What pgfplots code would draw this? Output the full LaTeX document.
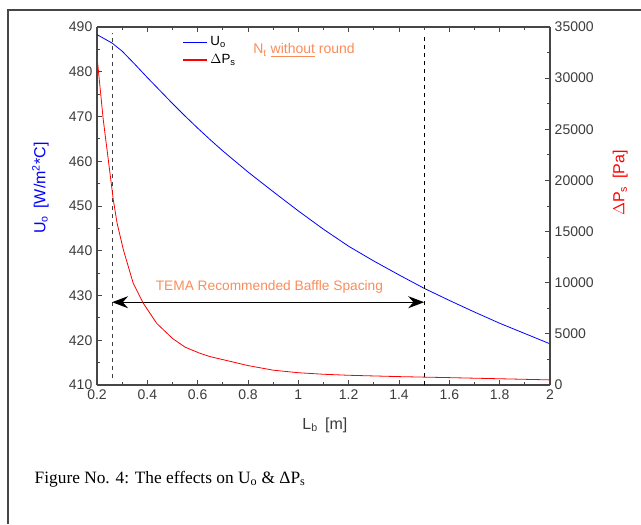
\documentclass[border=0pt]{standalone}
\usepackage{fontspec}
\setmainfont{Liberation Sans}
\newfontfamily\capfont{Liberation Serif}
\usepackage{pgfplots}
\pgfplotsset{compat=1.18}
\usetikzlibrary{arrows.meta}

\definecolor{axgray}{RGB}{70,70,70}
\definecolor{tickgray}{RGB}{60,60,60}
\definecolor{noteorange}{RGB}{250,140,90}

% U_o [W/m2C] against baffle spacing
\pgfplotstableread{
x     u
0.20  488.3
0.26  486.4
0.30  484.6
0.35  481.7
0.40  478.7
0.45  475.8
0.50  472.9
0.55  470.1
0.60  467.4
0.65  464.8
0.70  462.3
0.80  457.6
0.90  453.2
1.00  448.9
1.10  444.8
1.20  441.0
1.30  437.7
1.40  434.6
1.50  431.6
1.60  428.9
1.70  426.3
1.80  423.8
1.90  421.5
2.00  419.2
}\uodata

% shell side pressure drop [Pa]
\pgfplotstableread{
x      dp
0.200  32100
0.225  25900
0.245  22000
0.265  18070
0.280  15800
0.305  13200
0.344  9940
0.384  7990
0.437  6030
0.500  4550
0.550  3700
0.609  3100
0.650  2770
0.740  2250
0.800  1900
0.900  1450
1.000  1200
1.100  1050
1.200  950
1.400  820
1.600  720
1.800  610
2.000  500
}\dpdata

\begin{document}
\begin{tikzpicture}
\useasboundingbox (0,0) rectangle (480.75pt,393pt);
% frame round the figure
\draw[axgray, line width=1pt] (6pt,0pt) -- (6pt,385.5pt) -- (480.75pt,385.5pt);

\pgfplotsset{
  every axis/.append style={
    width=339.75pt, height=268.5pt, scale only axis,
    at={(72.75pt,104.25pt)}, anchor=south west,
    axis line style={axgray, line width=0.8pt},
    tick style={axgray, line width=0.6pt},
    tick align=inside,
    major tick length=4pt, minor tick length=2.5pt,
    tick label style={font=\fontsize{10.5}{12}\selectfont, text=tickgray},
    /pgf/number format/assume math mode=true,
    /pgf/number format/1000 sep={},
    xmin=0.2, xmax=2,
  }
}

\begin{axis}[
  ymin=410, ymax=490,
  xtick={0.2,0.4,...,2.01},
  xticklabels={0.2,0.4,0.6,0.8,1,1.2,1.4,1.6,1.8,2},
  minor x tick num=1,
  ytick={410,420,...,490},
  minor y tick num=1,
  xtick pos=both, ytick pos=left,
  axis y line*=left,
  xlabel={L\textsubscript{b}\, [m]},
  xlabel style={font=\fontsize{12}{14}\selectfont, text=tickgray,
    at={(rel axis cs:0.503,-0.112)}, anchor=center},
  ylabel={U\textsubscript{o}\, [W/m\textsuperscript{2}*C]},
  ylabel style={font=\fontsize{12}{14}\selectfont, text=blue,
    at={(rel axis cs:-0.125,0.55)}, anchor=center},
]
\addplot[blue, line width=0.6pt] table[x=x, y=u] {\uodata};

% recommended spacing band
\draw[black!75, dashed, line width=0.6pt] (axis cs:0.26,411.5) -- (axis cs:0.26,488.6);
\draw[black, dashed, line width=0.6pt] (axis cs:1.5,410) -- (axis cs:1.5,488.6);
\draw[black, line width=0.8pt,
  {Stealth[length=12pt,width=9pt,inset=4pt]}-{Stealth[length=12pt,width=9pt,inset=4pt]}]
  (axis cs:0.26,428.5) -- (axis cs:1.5,428.5);
\node[text=noteorange, font=\fontsize{10.3}{12}\selectfont] at (axis cs:0.885,431.8)
  {TEMA Recommended Baffle Spacing};
\node[text=noteorange, font=\fontsize{10.5}{12}\selectfont, anchor=base west, inner sep=0pt]
  at (axis cs:0.82,484.0)
  {N\textsubscript{t} \underline{without} round};
\end{axis}

\begin{axis}[
  ymin=0, ymax=35000,
  ytick={0,5000,...,35000},
  minor y tick num=1,
  scaled y ticks=false,
  hide x axis,
  axis y line*=right,
  ylabel={$\Delta$P\textsubscript{s}\, [Pa]},
  ylabel style={font=\fontsize{12}{14}\selectfont, text=red,
    at={(rel axis cs:1.155,0.564)}, anchor=center},
  legend style={draw=none, fill=none, font=\fontsize{10}{12}\selectfont,
    at={(rel axis cs:0.185,0.985)}, anchor=north west,
    inner sep=1pt, row sep=1pt, text=black},
  legend cell align=left,
  legend image code/.code={\draw[line width=1pt] (0pt,0pt) -- (18pt,0pt);},
]
\addlegendimage{draw=blue}
\addlegendentry{U\textsubscript{o}}
\addplot[red, line width=0.6pt] table[x=x, y=dp] {\dpdata};
\addlegendentry{$\Delta$P\textsubscript{s}}
\end{axis}

\node[anchor=base west, font=\capfont\fontsize{13}{15}\selectfont]
  at (22.5pt,30.75pt) {Figure No. 4: The effects on U\textsubscript{o} \& ΔP\textsubscript{s}};
\end{tikzpicture}
\end{document}
